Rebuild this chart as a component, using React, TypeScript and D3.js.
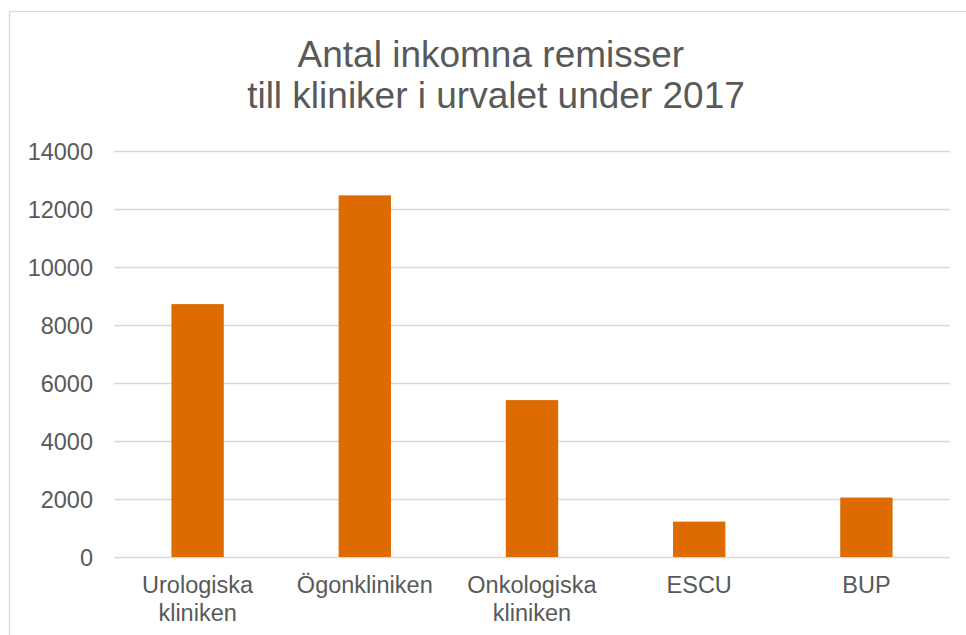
import React, { useRef, useEffect } from 'react'
import { select, scaleBand, scaleLinear, axisLeft } from 'd3'

const categories = [['Urologiska', 'kliniken'], ['Ögonkliniken'], ['Onkologiska', 'kliniken'], ['ESCU'], ['BUP']]
const values = [8720, 12470, 5410, 1220, 2050]
const yTicks = [0, 2000, 4000, 6000, 8000, 10000, 12000, 14000]
const titleLines = ['Antal inkomna remisser ', 'till kliniker i urvalet under 2017']

const App = () => {
  const svgRef = useRef<SVGSVGElement>(null)
  const width = 966
  const height = 635
  const margin = { top: 151, right: 16, bottom: 78, left: 114 }
  const font = '"Liberation Sans", Arial, sans-serif'
  const textColor = '#595959'

  useEffect(() => {
    const svg = select(svgRef.current)
    svg.selectAll('*').remove()

    const keys = categories.map(c => c.join(' '))
    const x = scaleBand()
      .domain(keys)
      .range([margin.left, width - margin.right])
      .paddingInner(0.687)
      .paddingOuter(0.3435)
    const y = scaleLinear()
      .domain([0, 14000])
      .range([height - margin.bottom, margin.top])

    // chart frame (right & bottom edges fall outside the view)
    svg.append('rect')
      .attr('x', 9.5).attr('y', 11.5)
      .attr('width', 1000).attr('height', 700)
      .attr('fill', '#fff')
      .attr('stroke', '#d9d9d9')
      .attr('stroke-width', 1.3)

    // title
    svg.append('g')
      .selectAll('text')
      .data(titleLines)
      .join('text')
      .attr('x', 496)
      .attr('y', (d, i) => 66.7 + i * 41)
      .attr('text-anchor', 'middle')
      .attr('font-family', font)
      .attr('font-size', 37)
      .attr('fill', textColor)
      .style('white-space', 'pre')
      .text(d => d)

    // y axis with gridlines
    svg.append('g')
      .attr('transform', `translate(${margin.left},0)`)
      .call(axisLeft(y).tickValues(yTicks).tickSize(-(width - margin.left - margin.right)).tickPadding(21).tickFormat(d => String(d)))
      .call(g => g.select('.domain').remove())
      .call(g => g.selectAll('.tick line').attr('stroke', '#d9d9d9').attr('stroke-width', 1.3))
      .call(g => g.selectAll('.tick text')
        .attr('font-family', font)
        .attr('font-size', 23.5)
        .attr('fill', textColor)
        .attr('dy', '0.35em'))

    // bars
    svg.append('g')
      .selectAll('rect')
      .data(values)
      .join('rect')
      .attr('x', (d, i) => x(keys[i]) as number)
      .attr('y', d => y(d))
      .attr('width', x.bandwidth())
      .attr('height', d => y(0) - y(d))
      .attr('fill', '#dd6b00')

    // category labels
    const labels = svg.append('g')
      .selectAll('text')
      .data(categories)
      .join('text')
      .attr('x', (d, i) => (x(keys[i]) as number) + x.bandwidth() / 2)
      .attr('y', 593)
      .attr('text-anchor', 'middle')
      .attr('font-family', font)
      .attr('font-size', 23.5)
      .attr('fill', textColor)
    labels.selectAll('tspan')
      .data(d => d)
      .join('tspan')
      .attr('x', function () { return select(this.parentNode as SVGTextElement).attr('x') })
      .attr('dy', (d, i) => (i === 0 ? 0 : 28))
      .text(d => d)
  }, [])

  return (
    <svg ref={svgRef} width={width} height={height} style={{ position: 'absolute', left: 0, top: 0 }} />
  )
}

export default App
